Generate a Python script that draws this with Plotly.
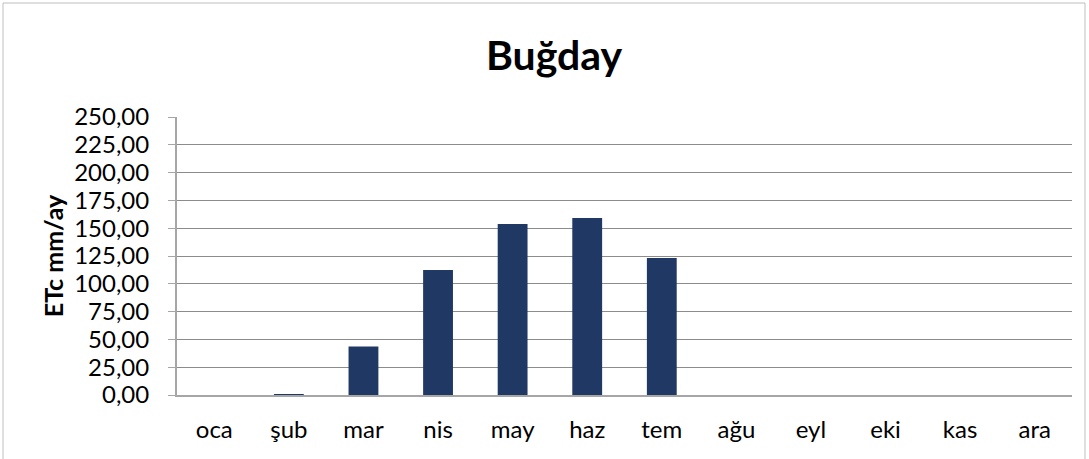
import plotly.graph_objects as go

months = ["oca", "şub", "mar", "nis", "may", "haz", "tem", "ağu", "eyl", "eki", "kas", "ara"]
etc_values = [0.0, 0.8, 43.7, 112.5, 153.8, 159.1, 123.2, 0.0, 0.0, 0.0, 0.0, 0.0]
y_ticks = [0, 25, 50, 75, 100, 125, 150, 175, 200, 225, 250]

W, H = 1089, 459
L, R, T, B = 177, 17, 117, 64
pw, ph = W - L - R, H - T - B

fig = go.Figure(go.Bar(
    x=months, y=etc_values,
    marker=dict(color="#203864", line=dict(width=0)),
))

font_family = "Lato, 'Open Sans', sans-serif"

fig.update_layout(
    width=W, height=H,
    margin=dict(l=L, r=R, t=T, b=B, autoexpand=False),
    paper_bgcolor="white", plot_bgcolor="white",
    separators=",.",
    bargap=0.6,
    showlegend=False,
    font=dict(family=font_family, color="black", size=24),
    title=dict(text="<b>Buğday</b>", x=554 / W, xanchor="center",
               xref="container", yref="container", y=1 - 56 / H, yanchor="middle",
               font=dict(size=41, family=font_family, color="black")),
    xaxis=dict(showline=True, linecolor="#a6a6a6", linewidth=2, ticks="",
               tickfont=dict(size=24), showgrid=False, ticklabelstandoff=12),
    yaxis=dict(range=[0, 250], tickvals=y_ticks, tickformat=".2f",
               showgrid=True, gridcolor="#8c8c8c", gridwidth=1,
               showline=True, linecolor="#a6a6a6", linewidth=2,
               ticks="outside", ticklen=7, tickcolor="#a6a6a6",
               tickfont=dict(size=24), zeroline=False, ticklabelstandoff=14,
               title=dict(text="<b>ETc mm/ay</b>", font=dict(size=25), standoff=3)),
)

# chart-area border
x0 = (3 - L) / pw
x1 = (W - 4 - L) / pw
y1 = (H - B - 3) / ph
y0 = (H - B - (H + 5)) / ph
fig.add_shape(type="rect", xref="paper", yref="paper", x0=x0, x1=x1, y0=y0, y1=y1,
              line=dict(color="#bfbfbf", width=1), layer="below")

fig.write_html("out.html", config={"displayModeBar": False},
               post_script="document.body.style.margin='0';document.body.style.overflow='hidden';")
